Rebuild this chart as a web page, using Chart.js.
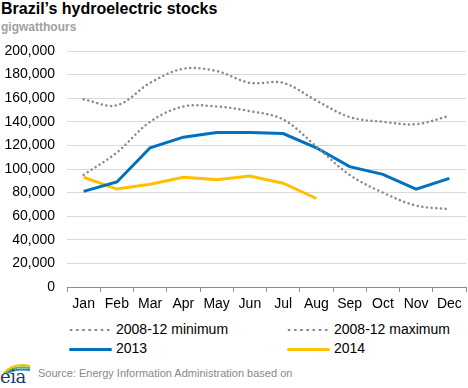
<!DOCTYPE html>
<html>
<head>
<meta charset="utf-8">
<script src="https://cdn.jsdelivr.net/npm/chart.js@4"></script>
<style>
  body { margin: 0; background: #fff; font-family: "Liberation Sans", Arial, sans-serif; }
  #wrap { position: relative; width: 468px; height: 388px; overflow: hidden; }
  #title { position: absolute; left: 1px; top: 0px; font-size: 16px; font-weight: bold; color: #000; }
  #sub { position: absolute; left: 1px; top: 20px; font-size: 12px; font-weight: bold; color: #a0a0a0; }
  #box { position: absolute; left: 0; top: 0; width: 468px; height: 314px; }
  .leg { position: absolute; font-size: 14px; color: #000; height: 16px; line-height: 16px; }
  .leg span.mk { display: inline-block; width: 43px; vertical-align: middle; margin-right: 4px; }
  .dot { height: 4px; background-image: radial-gradient(circle, #8a8a8a 1.1px, transparent 1.5px); background-size: 6.2px 4px; background-position: -1px 0; }
  .blue { height: 3px; background: #0070c0; border-radius: 2px; }
  .gold { height: 3px; background: #ffc000; border-radius: 2px; }
  #src { position: absolute; left: 38px; top: 367px; font-size: 11px; color: #888; }
  #logo { position: absolute; left: 0; top: 360px; width: 34px; height: 28px; }
  #logo b { position: absolute; left: 0px; top: 6px; font-family: "DejaVu Serif", serif; font-weight: normal; font-size: 18px; color: #1f3b6e; letter-spacing: -0.5px; }
</style>
</head>
<body>
<div id="wrap">
  <div id="title">Brazil’s hydroelectric stocks</div>
  <div id="sub">gigwatthours</div>
  <div id="box"><canvas id="lineChart"></canvas></div>

  <div class="leg" style="left:69px;top:321px"><span class="mk dot"></span>2008-12 minimum</div>
  <div class="leg" style="left:287px;top:321px"><span class="mk dot"></span>2008-12 maximum</div>
  <div class="leg" style="left:69px;top:340px"><span class="mk blue"></span>2013</div>
  <div class="leg" style="left:287px;top:340px"><span class="mk gold"></span>2014</div>

  <div id="logo">
    <svg width="34" height="14" style="position:absolute;left:0;top:0">
      <path d="M4 13 Q14 2 30 6" stroke="#f5c400" stroke-width="2" fill="none"/>
      <path d="M6 13 Q15 5 30 8" stroke="#6cb33f" stroke-width="2" fill="none"/>
      <path d="M8 13 Q16 8 30 10" stroke="#2a8bd0" stroke-width="2" fill="none"/>
    </svg>
    <b>eia</b>
  </div>
  <div id="src">Source: Energy Information Administration based on</div>
</div>

<script>
"use strict";

// månader och värden (GWh)
const months = ["Jan", "Feb", "Mar", "Apr", "May", "Jun", "Jul", "Aug", "Sep", "Oct", "Nov", "Dec"];
const minValues = [95000, 114000, 140000, 153000, 153000, 149000, 142000, 119000, 95000, 80000, 69000, 66000];
const maxValues = [159000, 154000, 173000, 185000, 183000, 173000, 173000, 158000, 144000, 140000, 138000, 145000];
const values2013 = [81000, 89000, 118000, 127000, 131000, 131000, 130000, 118000, 102000, 95500, 83000, 92000];
const values2014 = [93000, 83000, 87000, 93000, 91000, 94000, 88000, 75000];
const yTicks = [0, 20000, 40000, 60000, 80000, 100000, 120000, 140000, 160000, 180000, 200000];

window.onload = init;

function init() {
    const el = document.getElementById("lineChart");

    const dotted = {
        borderColor: "#8a8a8a",
        borderWidth: 2.5,
        borderDash: [0.1, 4.6],
        borderCapStyle: "round",
        tension: 0.35,
        pointRadius: 0,
        fill: false
    };

    new Chart(el, {
        type: "line",
        data: {
            labels: months,
            datasets: [
                Object.assign({ label: "2008-12 minimum", data: minValues }, dotted),
                Object.assign({ label: "2008-12 maximum", data: maxValues }, dotted),
                { label: "2013", data: values2013, borderColor: "#0070c0", borderWidth: 3, pointRadius: 0, tension: 0 },
                { label: "2014", data: values2014, borderColor: "#ffc000", borderWidth: 3, pointRadius: 0, tension: 0 }
            ]
        },
        options: {
            responsive: true,
            maintainAspectRatio: false,
            animation: false,
            layout: { padding: { top: 51, right: 2, left: 0, bottom: 0 } },
            plugins: {
                legend: { display: false },
                tooltip: { enabled: false }
            },
            scales: {
                x: {
                    offset: true,
                    afterFit: function (scale) { scale.height = 27; },
                    grid: { offset: true, drawOnChartArea: false, drawTicks: true, tickLength: 5, color: "#8c8c8c" },
                    border: { display: true, color: "#8c8c8c", width: 1 },
                    ticks: {
                        color: "#000",
                        padding: 4,
                        maxRotation: 0,
                        autoSkip: false,
                        font: { family: "'Liberation Sans', Arial", size: 14 }
                    }
                },
                y: {
                    min: 0,
                    max: 200000,
                    afterFit: function (scale) { scale.width = 67; },
                    afterBuildTicks: function (scale) {
                        scale.ticks = yTicks.map(v => ({ value: v }));
                    },
                    grid: { color: "#d9d9d9", lineWidth: 1, drawTicks: false },
                    border: { display: false },
                    ticks: {
                        color: "#000",
                        padding: 12,
                        font: { family: "'Liberation Sans', Arial", size: 14 },
                        callback: v => v.toLocaleString("en-US")
                    }
                }
            }
        }
    });
}
</script>
</body>
</html>
